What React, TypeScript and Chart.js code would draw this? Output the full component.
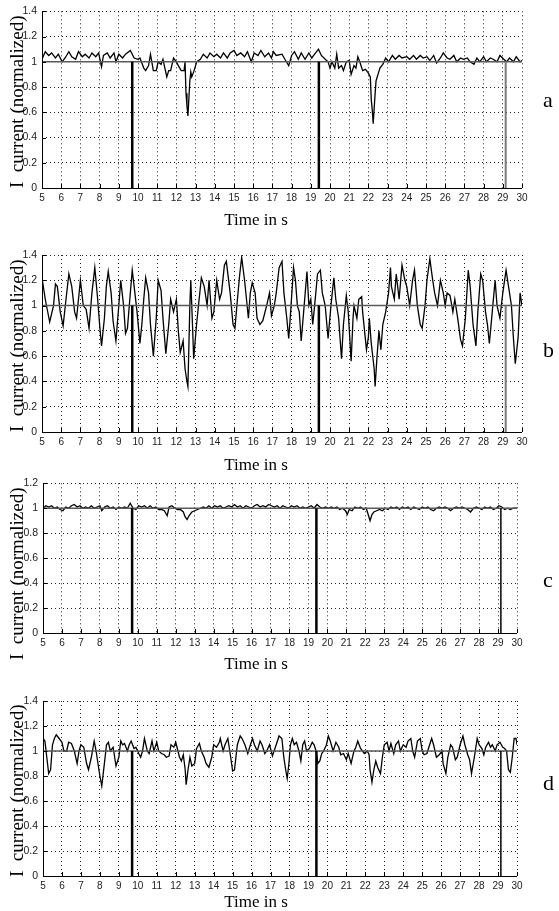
import React, { useEffect, useRef } from "react";
import { Chart, registerables } from "chart.js";

Chart.register(...registerables);

// ---------- data ----------
const aTime = [5.0,5.17,5.35,5.5,5.7,5.85,6.05,6.2,6.4,6.55,6.75,6.9,7.1,7.25,7.45,7.6,7.8,7.95,8.1,8.2,8.4,8.55,8.75,8.85,9.0,9.2,9.35,9.6,9.8,10.0,10.1,10.3,10.4,10.55,10.65,10.8,10.95,11.05,11.2,11.3,11.4,11.5,11.6,11.7,11.85,12.0,12.1,12.25,12.4,12.45,12.5,12.55,12.6,12.7,12.75,12.8,12.9,13.0,13.05,13.25,13.4,13.6,13.75,13.95,14.1,14.3,14.45,14.65,14.8,15.0,15.15,15.35,15.55,15.7,15.9,16.05,16.25,16.4,16.6,16.8,16.95,17.05,17.2,17.5,17.65,17.85,18.0,18.15,18.35,18.5,18.7,18.9,19.05,19.2,19.4,19.55,19.75,19.9,20.0,20.1,20.25,20.35,20.45,20.6,20.7,20.85,21.0,21.1,21.25,21.35,21.45,21.55,21.7,21.85,22.0,22.1,22.15,22.2,22.25,22.35,22.4,22.5,22.6,22.75,22.9,23.05,23.25,23.4,23.6,23.75,24.0,24.15,24.35,24.5,24.7,24.85,25.05,25.2,25.4,25.55,25.75,25.9,26.1,26.25,26.45,26.6,26.8,26.95,27.15,27.3,27.5,27.65,27.8,28.0,28.15,28.35,28.5,28.7,28.85,29.05,29.2,29.35,29.55,29.7,29.9,30.0];
const aCurrent = [1.02,1.08,1.05,1.07,1.03,1.06,1.0,1.03,1.08,1.04,1.02,1.08,1.04,1.06,1.03,1.07,1.04,1.07,0.96,1.05,1.07,1.03,1.07,1.0,1.06,1.03,1.06,1.09,1.03,1.02,1.03,0.95,0.93,0.97,1.06,0.93,0.93,1.0,0.98,1.02,0.95,0.88,0.93,0.93,1.03,1.0,0.97,0.93,0.93,1.0,0.75,0.65,0.57,0.85,0.92,0.88,0.92,0.97,1.0,1.02,1.06,1.03,1.07,1.04,1.06,1.03,1.07,1.03,1.07,1.09,1.05,1.07,1.04,1.08,1.0,1.07,1.05,1.09,1.04,1.07,1.03,1.08,1.05,1.06,1.02,0.97,1.05,1.08,1.02,1.07,1.02,1.07,1.03,1.06,1.1,1.05,1.02,1.0,0.95,1.0,0.95,1.06,0.95,0.97,0.93,1.0,1.01,0.9,0.97,0.95,1.04,1.0,0.93,0.94,0.91,0.88,0.7,0.62,0.51,0.75,0.85,0.9,0.95,0.98,1.03,1.0,1.05,1.02,1.05,1.03,1.04,1.02,1.05,1.02,1.05,1.03,1.04,1.01,1.05,0.99,1.03,1.07,1.03,1.02,1.05,1.0,1.03,1.02,1.03,1.0,0.98,1.03,1.0,1.04,1.0,1.03,1.02,1.0,1.05,1.02,1.0,1.03,1.0,1.04,1.0,1.01];

const bTime = [5.0,5.17,5.4,5.6,5.7,5.8,5.95,6.1,6.25,6.4,6.55,6.7,6.8,7.0,7.15,7.3,7.45,7.6,7.75,7.9,8.0,8.1,8.25,8.35,8.45,8.6,8.7,8.85,9.0,9.1,9.25,9.35,9.45,9.6,9.7,9.8,9.95,10.1,10.2,10.3,10.4,10.55,10.65,10.8,10.95,11.05,11.2,11.3,11.45,11.6,11.7,11.85,12.0,12.1,12.2,12.35,12.45,12.55,12.6,12.7,12.75,12.85,12.9,13.05,13.15,13.3,13.45,13.6,13.7,13.85,13.95,14.1,14.25,14.35,14.5,14.6,14.8,14.95,15.05,15.15,15.3,15.4,15.55,15.65,15.75,15.85,15.95,16.1,16.2,16.35,16.5,16.7,16.85,16.95,17.1,17.2,17.35,17.5,17.6,17.75,17.85,17.95,18.1,18.2,18.3,18.4,18.5,18.6,18.8,18.9,19.0,19.1,19.2,19.35,19.5,19.6,19.75,19.9,20.05,20.2,20.3,20.45,20.6,20.7,20.85,20.95,21.1,21.2,21.25,21.4,21.5,21.65,21.7,21.8,21.9,22.0,22.05,22.15,22.3,22.35,22.45,22.55,22.65,22.75,22.9,23.05,23.15,23.2,23.35,23.45,23.6,23.75,23.9,24.0,24.15,24.3,24.4,24.55,24.7,24.8,24.95,25.05,25.2,25.35,25.45,25.6,25.75,25.9,26.0,26.1,26.25,26.4,26.5,26.65,26.8,26.9,27.05,27.2,27.3,27.45,27.6,27.7,27.85,27.95,28.1,28.2,28.3,28.45,28.6,28.7,28.85,29.0,29.17,29.3,29.45,29.55,29.65,29.8,29.9,30.0];
const bCurrent = [1.22,1.05,0.87,1.0,1.17,1.15,0.95,0.84,1.05,1.25,1.15,0.95,0.9,1.2,1.0,0.97,0.82,1.1,1.3,1.05,0.85,0.68,0.9,1.15,1.27,1.1,0.88,0.72,1.0,1.2,1.0,0.78,0.82,1.1,1.28,1.15,0.95,0.7,0.85,1.05,1.22,1.1,0.85,0.6,0.9,1.2,1.12,0.9,0.62,0.85,1.05,0.95,1.05,0.8,0.63,0.72,0.5,0.4,0.36,1.0,1.2,0.8,0.58,0.85,1.0,1.22,1.15,1.0,1.2,0.9,0.95,1.2,1.05,1.1,1.32,1.35,1.1,0.85,0.82,1.0,1.25,1.38,1.2,1.05,0.9,1.1,1.18,1.1,0.9,0.85,0.88,1.0,1.1,0.92,1.0,1.1,1.3,1.35,1.1,0.9,0.74,0.95,1.3,1.2,1.0,0.95,0.72,0.9,1.27,1.0,1.05,0.85,1.0,1.25,1.28,1.1,1.0,0.74,1.0,1.22,1.05,0.9,0.58,0.85,1.08,0.95,0.56,0.9,1.0,0.9,1.05,1.07,0.95,0.8,0.65,0.75,0.9,0.7,0.5,0.36,0.6,0.8,0.65,0.85,0.95,1.1,1.3,1.15,1.05,1.25,1.05,1.32,1.2,1.15,1.0,1.2,1.28,1.0,0.85,0.82,1.0,1.2,1.37,1.2,1.1,1.0,1.2,1.1,1.0,1.1,1.08,0.95,1.05,0.9,0.73,0.68,0.9,1.28,1.15,0.85,0.68,0.95,1.25,1.2,0.95,0.85,0.7,0.95,1.2,1.0,0.9,1.1,1.28,1.15,1.0,0.75,0.54,0.75,1.1,1.0];

const cTime = [5.0,5.15,5.3,5.45,5.6,5.75,5.9,6.05,6.2,6.35,6.5,6.65,6.8,6.95,7.1,7.25,7.4,7.55,7.7,7.85,8.0,8.1,8.25,8.4,8.55,8.7,8.85,9.0,9.15,9.3,9.45,9.6,9.75,9.9,10.05,10.2,10.35,10.5,10.65,10.8,10.95,11.1,11.25,11.4,11.55,11.65,11.8,11.95,12.1,12.25,12.4,12.5,12.6,12.7,12.85,13.0,13.15,13.3,13.45,13.6,13.75,13.9,14.05,14.2,14.35,14.5,14.65,14.8,14.95,15.1,15.25,15.4,15.55,15.7,15.85,16.0,16.15,16.3,16.45,16.6,16.75,16.9,17.05,17.2,17.35,17.5,17.65,17.8,17.95,18.1,18.25,18.4,18.55,18.7,18.85,19.0,19.15,19.3,19.45,19.6,19.75,19.9,20.05,20.2,20.35,20.5,20.65,20.8,20.95,21.05,21.15,21.3,21.45,21.6,21.75,21.9,22.05,22.15,22.25,22.35,22.45,22.6,22.75,22.9,23.05,23.2,23.35,23.5,23.65,23.8,23.95,24.1,24.25,24.4,24.55,24.7,24.85,25.0,25.15,25.3,25.45,25.6,25.75,25.9,26.05,26.2,26.35,26.5,26.65,26.8,26.95,27.1,27.25,27.4,27.55,27.7,27.85,28.0,28.15,28.3,28.45,28.6,28.75,28.9,29.05,29.2,29.35,29.5,29.65,29.8,30.0];
const cCurrent = [1.0,1.02,1.01,1.02,1.0,1.01,0.99,0.98,1.01,1.0,1.02,1.03,1.01,1.02,1.0,1.01,1.0,1.02,1.0,1.01,1.02,0.98,1.01,1.02,1.0,1.01,0.99,1.01,1.0,1.01,1.0,1.04,1.0,0.99,1.02,1.01,1.02,1.0,1.02,1.0,1.01,0.99,0.99,0.98,0.94,1.01,1.02,1.0,0.99,0.99,0.97,0.93,0.91,0.94,0.97,0.98,0.99,1.0,1.01,1.0,1.02,1.0,1.02,1.01,1.02,1.0,1.01,1.02,1.01,1.03,1.01,1.02,1.0,1.02,1.01,1.0,1.02,1.03,1.01,1.02,1.01,1.03,1.02,1.01,1.02,1.0,1.02,1.01,1.0,1.02,1.01,1.02,1.0,1.01,1.0,1.01,1.02,1.0,1.03,1.01,1.0,1.01,1.0,1.01,1.0,1.01,0.99,1.0,0.98,0.95,0.99,0.98,1.01,1.0,1.01,0.99,1.0,0.95,0.9,0.95,0.97,0.98,0.99,0.98,1.0,0.99,1.01,1.0,1.01,0.99,1.01,1.0,1.01,0.99,1.01,1.0,0.99,1.01,1.0,1.01,0.99,0.98,1.0,1.01,1.0,1.01,1.0,0.98,1.0,1.01,1.0,1.01,1.0,0.99,0.97,1.0,1.01,1.0,0.99,1.01,1.0,1.01,0.99,1.0,1.02,1.01,0.99,1.0,0.99,1.0,1.0];

const dTime = [5.0,5.1,5.2,5.3,5.4,5.5,5.6,5.7,5.85,6.0,6.1,6.25,6.35,6.5,6.65,6.8,6.9,7.0,7.15,7.3,7.4,7.55,7.7,7.8,7.9,8.0,8.1,8.2,8.35,8.45,8.55,8.7,8.85,9.0,9.1,9.2,9.3,9.45,9.55,9.65,9.8,9.9,10.05,10.15,10.25,10.35,10.5,10.6,10.75,10.85,11.0,11.1,11.25,11.4,11.5,11.65,11.75,11.9,12.0,12.2,12.3,12.4,12.5,12.55,12.65,12.75,12.85,13.0,13.1,13.25,13.35,13.5,13.6,13.75,13.9,14.0,14.15,14.3,14.35,14.5,14.6,14.75,14.9,15.0,15.1,15.25,15.4,15.5,15.65,15.8,15.9,16.05,16.15,16.3,16.45,16.55,16.7,16.8,16.95,17.1,17.3,17.45,17.6,17.7,17.8,17.88,17.97,18.05,18.15,18.25,18.37,18.5,18.6,18.7,18.8,18.9,19.05,19.2,19.3,19.4,19.5,19.6,19.7,19.8,19.95,20.05,20.15,20.3,20.45,20.6,20.7,20.85,21.0,21.1,21.25,21.4,21.5,21.6,21.75,21.85,21.95,22.1,22.2,22.25,22.35,22.45,22.55,22.65,22.8,22.9,23.0,23.15,23.25,23.35,23.5,23.6,23.75,23.85,24.0,24.15,24.25,24.4,24.5,24.6,24.75,24.9,25.0,25.1,25.25,25.35,25.5,25.6,25.75,25.9,26.05,26.1,26.25,26.35,26.5,26.6,26.75,26.85,27.0,27.15,27.25,27.4,27.5,27.6,27.75,27.9,28.0,28.15,28.25,28.35,28.5,28.6,28.7,28.85,28.95,29.1,29.25,29.35,29.45,29.55,29.65,29.75,29.85,29.95,30.0];
const dCurrent = [1.1,1.08,0.95,0.82,0.85,1.05,1.1,1.13,1.1,1.07,1.0,1.0,1.07,1.06,1.0,0.9,1.0,1.05,1.03,0.9,0.85,0.95,1.08,1.0,0.9,0.8,0.72,0.85,1.05,1.07,1.0,1.03,0.88,0.95,1.08,1.05,1.06,1.0,1.05,1.08,1.02,1.03,0.98,0.95,1.0,1.1,1.0,0.98,1.08,1.0,1.07,1.0,0.98,0.97,0.95,0.96,1.05,1.03,1.07,0.95,0.92,0.97,0.85,0.73,0.85,0.95,0.88,0.9,1.02,1.06,1.0,0.95,0.9,0.87,0.95,1.05,1.03,1.07,1.1,1.0,1.05,1.1,0.95,0.84,0.85,1.05,1.12,1.1,1.05,0.98,1.03,1.1,1.05,1.0,1.08,1.05,0.98,1.0,1.05,0.96,1.05,1.12,1.1,0.95,0.85,0.78,0.9,1.05,1.1,1.05,1.07,1.0,0.92,1.05,1.08,1.0,1.02,1.07,1.05,1.0,0.9,0.92,0.98,1.0,1.05,1.12,1.08,1.0,1.07,1.03,0.97,0.98,0.93,0.98,0.9,1.0,1.03,1.08,1.02,1.0,0.98,1.0,0.97,0.85,0.75,0.85,0.92,0.87,0.82,0.95,1.05,1.07,1.0,1.06,0.98,1.05,1.08,1.0,1.05,1.03,1.08,1.1,1.0,0.95,1.08,1.1,1.0,0.97,0.98,1.03,1.1,1.05,0.95,0.97,1.0,0.9,0.82,0.95,1.05,1.03,0.93,0.95,1.05,1.12,1.05,0.97,0.93,0.82,0.95,1.1,1.05,1.02,0.97,1.03,1.07,1.03,1.05,1.0,1.05,1.07,1.03,1.02,1.0,0.85,0.83,0.95,1.1,1.1,1.05];

const markerTimes = [9.7, 19.42, 29.15];
const markerLevel = 1;
const referenceLevel = 1;
const xMin = 5;
const xMax = 30;
const xStep = 1;
const yStep = 0.2;
const panelLetters = ["a", "b", "c", "d"];
const yMaxes = [1.4, 1.4, 1.2, 1.4];
const xTitle = "Time in s";
const yTitle = "I  current (normalized)";

// ---------- layout / style ----------
const W = 559;
const SERIF = '"Liberation Serif", "Times New Roman", serif';
const SANS = '"Liberation Sans", Arial, sans-serif';

type PanelSpec = {
  letter: string;
  time: number[];
  values: number[];
  yMax: number;
  canvasTop: number;
  canvasH: number;
  plot: { left: number; right: number; top: number; bottom: number };
  titleBaseline: number;
  letterBaseline: number;
  yTitleStart: number;
  markerColors: string[];
  markerWidths: number[];
};

const PANELS: PanelSpec[] = [
  {
    letter: panelLetters[0], time: aTime, values: aCurrent, yMax: yMaxes[0],
    canvasTop: 0, canvasH: 230,
    plot: { left: 42, right: 522, top: 11, bottom: 188 },
    titleBaseline: 225, letterBaseline: 107, yTitleStart: 188,
    markerColors: ["#000", "#000", "#7a7a7a"], markerWidths: [2.5, 2.5, 2],
  },
  {
    letter: panelLetters[1], time: bTime, values: bCurrent, yMax: yMaxes[1],
    canvasTop: 230, canvasH: 242,
    plot: { left: 42, right: 522, top: 255, bottom: 432 },
    titleBaseline: 470, letterBaseline: 357, yTitleStart: 432,
    markerColors: ["#000", "#000", "#7a7a7a"], markerWidths: [2.5, 2.5, 2],
  },
  {
    letter: panelLetters[2], time: cTime, values: cCurrent, yMax: yMaxes[2],
    canvasTop: 472, canvasH: 208,
    plot: { left: 43, right: 517, top: 483, bottom: 633 },
    titleBaseline: 669, letterBaseline: 587, yTitleStart: 660,
    markerColors: ["#000", "#000", "#000"], markerWidths: [2.5, 2.5, 1.5],
  },
  {
    letter: panelLetters[3], time: dTime, values: dCurrent, yMax: yMaxes[3],
    canvasTop: 680, canvasH: 231,
    plot: { left: 43, right: 517, top: 701, bottom: 876 },
    titleBaseline: 907, letterBaseline: 790, yTitleStart: 877,
    markerColors: ["#000", "#000", "#000"], markerWidths: [2.5, 2.5, 1.5],
  },
];

function Panel({ p }: { p: PanelSpec }) {
  const ref = useRef<HTMLCanvasElement>(null);
  useEffect(() => {
    const canvas = ref.current;
    if (!canvas) return;
    const series = p.time.map((t, i) => ({ x: t, y: p.values[i] }));
    const markerSets = markerTimes.map((t, i) => ({
      data: [{ x: t, y: 0 }, { x: t, y: markerLevel }],
      borderColor: p.markerColors[i],
      borderWidth: p.markerWidths[i],
      pointRadius: 0,
      order: 0,
    }));
    const off = p.canvasTop;
    const overlay = {
      id: "overlay" + p.letter,
      afterDraw(chart: any) {
        const ctx = chart.ctx as CanvasRenderingContext2D;
        const { left, right, top, bottom } = chart.chartArea;
        ctx.save();
        ctx.strokeStyle = "#000";
        ctx.lineWidth = 1;
        ctx.setLineDash([]);
        ctx.beginPath();
        ctx.moveTo(left + 0.5, top);
        ctx.lineTo(left + 0.5, bottom + 0.5);
        ctx.lineTo(right, bottom + 0.5);
        ctx.stroke();
        const xs = chart.scales.x;
        const ys = chart.scales.y;
        ctx.beginPath();
        xs.ticks.forEach((tk: any) => {
          const px = Math.round(xs.getPixelForValue(tk.value)) + 0.5;
          ctx.moveTo(px, bottom);
          ctx.lineTo(px, bottom - 4);
        });
        ys.ticks.forEach((tk: any) => {
          const py = Math.round(ys.getPixelForValue(tk.value)) + 0.5;
          ctx.moveTo(left, py);
          ctx.lineTo(left + 4, py);
        });
        ctx.stroke();
        ctx.fillStyle = "#000";
        ctx.font = `17px ${SERIF}`;
        ctx.textAlign = "center";
        ctx.textBaseline = "alphabetic";
        ctx.fillText(xTitle, 256, p.titleBaseline - off);
        ctx.font = `22px ${SERIF}`;
        ctx.textAlign = "left";
        ctx.fillText(p.letter, 543, p.letterBaseline - off);
        ctx.save();
        ctx.translate(23, p.yTitleStart - off);
        ctx.rotate(-Math.PI / 2);
        ctx.font = `19px ${SERIF}`;
        ctx.textAlign = "left";
        ctx.fillText(yTitle, 0, 0);
        ctx.restore();
        ctx.restore();
      },
    };
    const xAxisH = p.canvasH - (p.plot.bottom - off);
    const chart = new Chart(canvas, {
      type: "line",
      data: {
        datasets: [
          ...markerSets,
          {
            data: [{ x: xMin, y: referenceLevel }, { x: xMax, y: referenceLevel }],
            borderColor: "#5a5a5a",
            borderWidth: 1.5,
            pointRadius: 0,
            order: 1,
          },
          {
            data: series,
            borderColor: "#000",
            borderWidth: 1.3,
            pointRadius: 0,
            tension: 0,
            order: 2,
          },
        ] as any,
      },
      options: {
        animation: false,
        responsive: false,
        devicePixelRatio: 1,
        events: [],
        layout: {
          padding: { top: p.plot.top - off, right: W - p.plot.right, left: 0, bottom: 0 },
        },
        plugins: { legend: { display: false }, tooltip: { enabled: false }, title: { display: false } },
        scales: {
          x: {
            type: "linear",
            min: xMin,
            max: xMax,
            afterFit: (s: any) => { s.height = xAxisH; },
            ticks: {
              stepSize: xStep,
              autoSkip: false,
              maxRotation: 0,
              padding: 4,
              color: "#222",
              font: { family: SANS, size: 10 },
            },
            grid: { color: "rgba(0,0,0,0.85)", lineWidth: 1, drawTicks: false },
            border: { display: false, dash: [1, 3] },
          },
          y: {
            type: "linear",
            min: 0,
            max: p.yMax,
            afterFit: (s: any) => { s.width = p.plot.left; },
            ticks: {
              stepSize: yStep,
              padding: 5,
              color: "#222",
              font: { family: SANS, size: 10.5 },
              callback: (v: any) => String(Number(Number(v).toFixed(1))),
            },
            grid: { color: "rgba(0,0,0,0.85)", lineWidth: 1, drawTicks: false },
            border: { display: false, dash: [1, 3] },
          },
        },
      } as any,
      plugins: [overlay],
    });
    return () => chart.destroy();
  }, [p]);
  return (
    <canvas
      ref={ref}
      width={W}
      height={p.canvasH}
      style={{ position: "absolute", left: 0, top: p.canvasTop, width: W, height: p.canvasH, display: "block" }}
    />
  );
}

export default function App() {
  return (
    <div style={{ position: "absolute", left: 0, top: 0, width: W, height: 911, overflow: "hidden", background: "#fff" }}>
      {PANELS.map((p) => (
        <Panel key={p.letter} p={p} />
      ))}
    </div>
  );
}
